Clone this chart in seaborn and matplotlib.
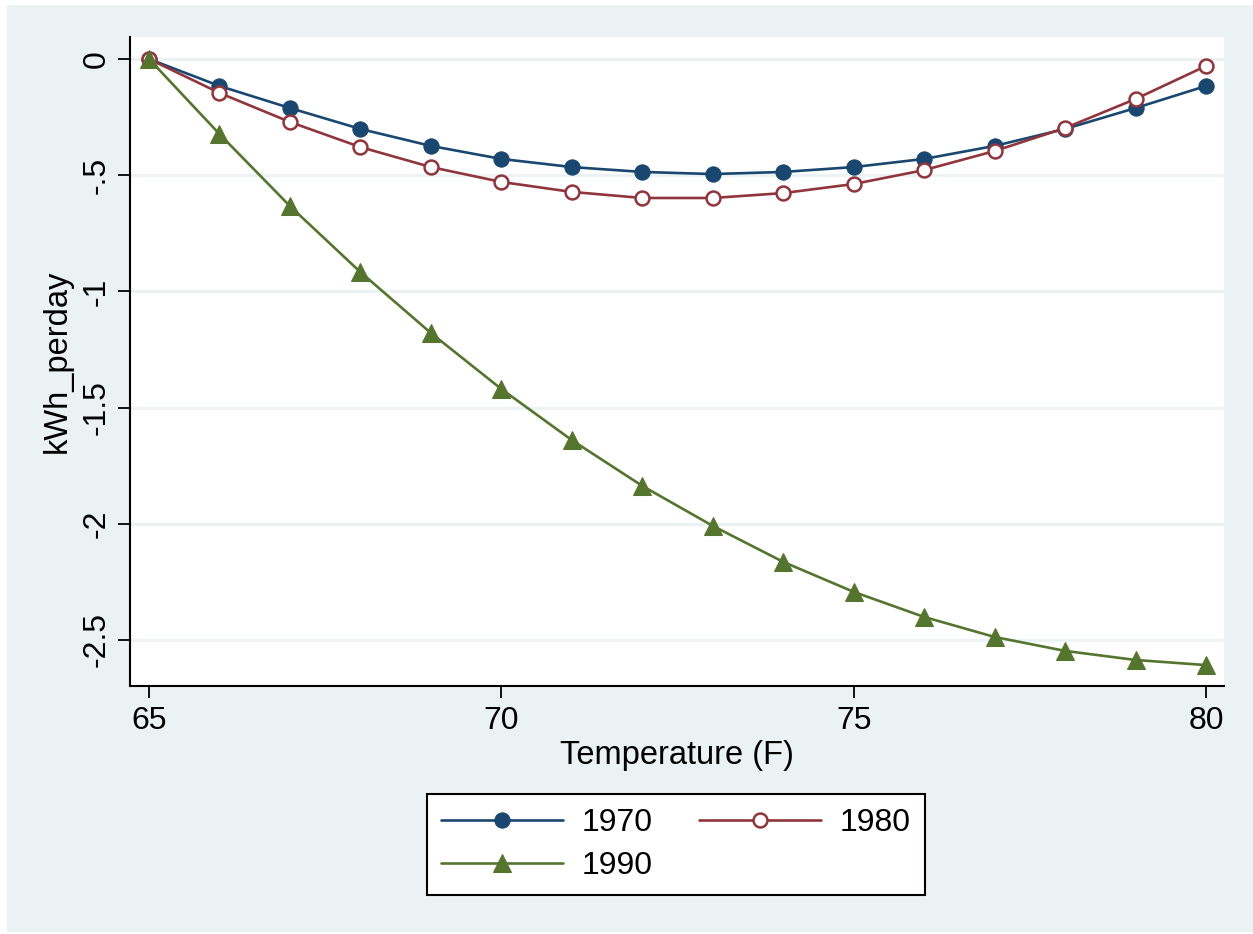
import numpy as np
import pandas as pd
import matplotlib.pyplot as plt
import seaborn as sns
from matplotlib.patches import Rectangle

sns.set_theme(style="white", context="notebook")
plt.rcParams['font.family'] = ['Liberation Sans', 'DejaVu Sans']
plt.rcParams['text.color'] = 'black'

# Values
temperature = [65, 66, 67, 68, 69, 70, 71, 72, 73, 74, 75, 76, 77, 78, 79, 80]
kwh_1970 = [0, -0.116, -0.211, -0.301, -0.374, -0.430, -0.465, -0.486,
            -0.495, -0.486, -0.465, -0.430, -0.374, -0.301, -0.211, -0.116]
kwh_1980 = [0, -0.146, -0.271, -0.379, -0.465, -0.529, -0.572, -0.598,
            -0.598, -0.577, -0.538, -0.478, -0.396, -0.297, -0.172, -0.030]
kwh_1990 = [0, -0.323, -0.633, -0.917, -1.179, -1.420, -1.640, -1.837,
            -2.009, -2.164, -2.293, -2.401, -2.487, -2.547, -2.586, -2.608]
series_names = ["1970", "1980", "1990"]
y_ticks = [0, -0.5, -1, -1.5, -2, -2.5]
y_tick_labels = ["0", "-.5", "-1", "-1.5", "-2", "-2.5"]
x_ticks = [65, 70, 75, 80]

COLORS = {"1970": "#1a476f", "1980": "#90353b", "1990": "#55752f"}
BG = "#eaf2f3"

df = pd.DataFrame({
    "Temperature": temperature * 3,
    "kWh_perday": kwh_1970 + kwh_1980 + kwh_1990,
    "Year": sum([[s] * len(temperature) for s in series_names], []),
})

fig = plt.figure(figsize=(12.53, 9.34), dpi=100, facecolor="white")
fig.patches.append(Rectangle((7 / 1253, 0.002), 1 - 7 / 1253, 1 - 5 / 934 - 0.002,
                             transform=fig.transFigure, facecolor=BG,
                             edgecolor="none", zorder=-10))
ax = fig.add_axes([130 / 1253, 1 - 686 / 934, (1224 - 130) / 1253, (686 - 37) / 934])
ax.set_facecolor("white")

styles = {
    "1970": dict(marker="o", markersize=11, markerfacecolor=COLORS["1970"],
                 markeredgecolor=COLORS["1970"]),
    "1980": dict(marker="o", markersize=10, markerfacecolor="white",
                 markeredgecolor=COLORS["1980"], markeredgewidth=1.8),
    "1990": dict(marker="^", markersize=12.5, markerfacecolor=COLORS["1990"],
                 markeredgecolor=COLORS["1990"]),
}

for name in series_names:
    sub = df[df["Year"] == name]
    sns.lineplot(data=sub, x="Temperature", y="kWh_perday", color=COLORS[name],
                 linewidth=1.9, ax=ax, label=name, **styles[name])
handles = dict(zip(*ax.get_legend_handles_labels()[::-1]))
ax.get_legend().remove()

ax.set_xlim(64.73, 80.255)
ax.set_ylim(-2.698, 0.0947)
ax.set_xticks(x_ticks)
ax.set_yticks(y_ticks)
ax.set_yticklabels(y_tick_labels, rotation=90, va="center")
ax.yaxis.grid(True, color=BG, linewidth=2)
ax.xaxis.grid(False)
ax.set_axisbelow(True)

for side in ["top", "right"]:
    ax.spines[side].set_visible(False)
for side in ["left", "bottom"]:
    ax.spines[side].set_color("black")
    ax.spines[side].set_linewidth(1.5)

ax.tick_params(axis="both", direction="out", length=8.5, width=1.3, colors="black",
               labelsize=23, pad=6, left=True, bottom=True)
ax.tick_params(axis="y", pad=5)
ax.set_xlabel("Temperature (F)", fontsize=23.5, labelpad=3, color="black")
ax.set_ylabel("kWh_perday", fontsize=23.5, color="black")
ax.yaxis.set_label_coords(-0.052, 0.5)

# row-major order with two columns: 1970, 1980 / 1990
order = ["1970", "1990", "1980"]
leg = fig.legend([handles[k] for k in order], order, loc="center",
                 bbox_to_anchor=(676 / 1253, 1 - 844.5 / 934), ncol=2,
                 fontsize=23, frameon=True, fancybox=False, framealpha=1,
                 handlelength=3.8, columnspacing=1.45, handletextpad=0.6,
                 borderpad=0.45, labelspacing=0.4, borderaxespad=0)
leg.get_frame().set_edgecolor("black")
leg.get_frame().set_linewidth(1.5)
leg.get_frame().set_facecolor("white")

fig.savefig("out.png", dpi=100, facecolor=fig.get_facecolor())
